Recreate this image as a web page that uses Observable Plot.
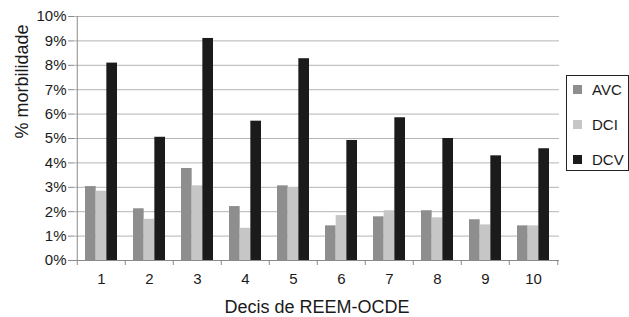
<!DOCTYPE html>
<html>
<head>
<meta charset="utf-8">
<script src="https://cdn.jsdelivr.net/npm/d3@7"></script>
<script src="https://cdn.jsdelivr.net/npm/@observablehq/plot@0.6"></script>
<style>
  html, body { margin: 0; padding: 0; background: #fff; }
  #wrap { position: relative; width: 629px; height: 317px; font-family: "Liberation Sans", Arial, sans-serif; }
  #legend { position: absolute; left: 566px; top: 75px; width: 61px; height: 94px; border: 1px solid #222; background: #fff; box-sizing: content-box; }
  #legend .item { position: absolute; left: 6px; height: 20px; display: flex; align-items: center; font-size: 15px; color: #1a1a1a; }
  #legend .sw { width: 9px; height: 9px; margin-right: 10px; }
</style>
</head>
<body>
<div id="wrap"></div>
<script>
const deciles = ["1", "2", "3", "4", "5", "6", "7", "8", "9", "10"];
const series = ["AVC", "DCI", "DCV"];
const avc = [3.03, 2.12, 3.77, 2.21, 3.06, 1.42, 1.79, 2.04, 1.67, 1.42];
const dci = [2.84, 1.69, 3.06, 1.32, 2.98, 1.84, 2.04, 1.75, 1.46, 1.42];
const dcv = [8.09, 5.05, 9.10, 5.71, 8.27, 4.92, 5.85, 5.00, 4.29, 4.58];
const colors = ["#8e8e8e", "#c6c6c6", "#1b1b1b"];
const yTicks = [0, 1, 2, 3, 4, 5, 6, 7, 8, 9, 10];
const xTitle = ["Decis de REEM-OCDE"];
const yTitle = ["% morbilidade"];

const values = [avc, dci, dcv];
const rows = [];
series.forEach((s, i) => deciles.forEach((d, j) => rows.push({decile: d, series: s, value: values[i][j]})));

const width = 629, height = 317;
const mL = 74, mR = 70, mT = 16, mB = 57;
const pad = 0.34;
const step = (width - mL - mR) / deciles.length;
const bw = step * (1 - pad);
const third = bw / 3;

const axisColor = "#8a8a8a";

const bars = series.map((s, i) => Plot.barY(rows.filter(r => r.series === s), {
  x: "decile", y: "value", fill: "series",
  insetLeft: i * third, insetRight: (series.length - 1 - i) * third
}));

const chart = Plot.plot({
  width, height,
  marginLeft: mL, marginRight: mR, marginTop: mT, marginBottom: mB,
  style: {fontFamily: "Liberation Sans, Arial, sans-serif", color: "#1a1a1a", background: "#fff"},
  x: {domain: deciles, paddingInner: pad, paddingOuter: pad / 2, axis: null},
  y: {domain: [0, 10], axis: null},
  color: {domain: series, range: colors},
  marks: [
    Plot.gridY(yTicks, {stroke: "#b4b4b4", strokeOpacity: 1, strokeWidth: 1}),
    ...bars,
    Plot.ruleY([0], {stroke: axisColor}),
    Plot.ruleX([deciles[0]], {y1: 0, y2: 10, dx: -step / 2, stroke: axisColor}),
    Plot.axisY(yTicks, {tickSize: 6, tickPadding: 2, tickFormat: d => d + "%", fontSize: 15, stroke: axisColor, fill: "#1a1a1a", label: null}),
    Plot.axisX(deciles, {tickSize: 5, dx: -step / 2, tickFormat: () => "", stroke: axisColor, label: null}),
    Plot.axisX([deciles[deciles.length - 1]], {tickSize: 5, dx: step / 2, tickFormat: () => "", stroke: axisColor, label: null}),
    Plot.axisX(deciles, {tickSize: 0, tickPadding: 13, fontSize: 15, fill: "#1a1a1a", label: null}),
    Plot.text(xTitle, {text: d => d, frameAnchor: "bottom", lineAnchor: "middle", dy: 47, fontSize: 18, fill: "#1a1a1a"}),
    Plot.text(yTitle, {text: d => d, frameAnchor: "left", lineAnchor: "middle", rotate: -90, dx: -52, fontSize: 18, fill: "#1a1a1a"})
  ]
});

const wrap = document.getElementById("wrap");
wrap.appendChild(chart);

const legend = document.createElement("div");
legend.id = "legend";
series.forEach((s, i) => {
  const item = document.createElement("div");
  item.className = "item";
  item.style.top = (3 + i * 35) + "px";
  const sw = document.createElement("span");
  sw.className = "sw";
  sw.style.background = colors[i];
  const t = document.createElement("span");
  t.textContent = s;
  item.appendChild(sw);
  item.appendChild(t);
  legend.appendChild(item);
});
wrap.appendChild(legend);
</script>
</body>
</html>
